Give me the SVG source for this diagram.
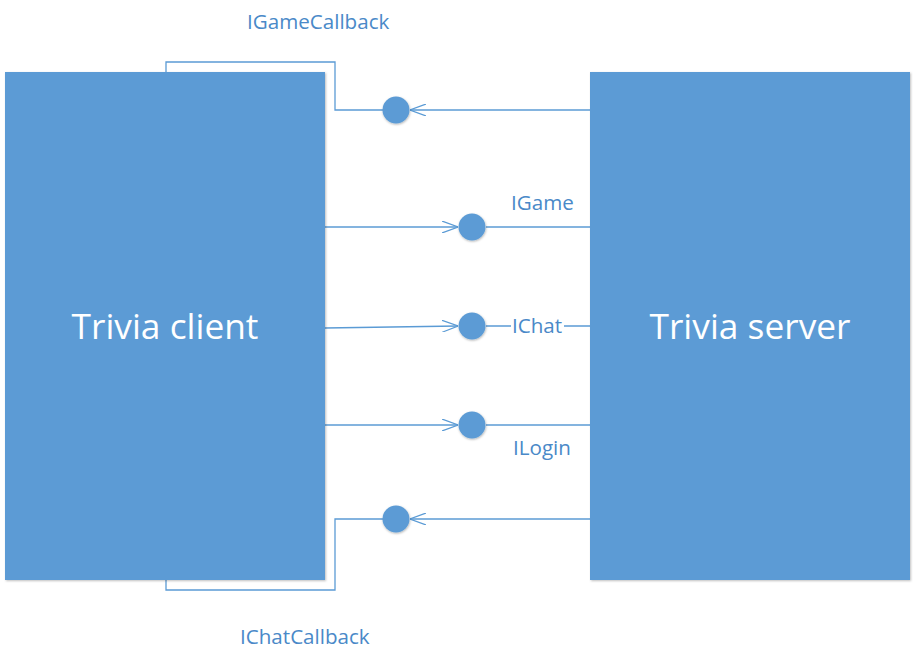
<svg xmlns="http://www.w3.org/2000/svg" width="916" height="664" viewBox="0 0 916 664">
<style>
.box{fill:#5B9BD5;filter:url(#sh)}
.ball{fill:#5B9BD5;filter:url(#sh2)}
.ln{fill:none;stroke:#5B9BD5;stroke-width:1.3}
.big{font-family:"Open Sans","Liberation Sans",sans-serif;font-size:35.3px;fill:#fff;text-anchor:middle}
.lbl{font-family:"Open Sans","Liberation Sans",sans-serif;font-size:20.6px;fill:#4A89C8}
</style>
<defs>
<filter id="sh" x="-5%" y="-5%" width="110%" height="110%">
<feDropShadow dx="1" dy="1" stdDeviation="1" flood-color="#000" flood-opacity="0.25"/>
</filter>
<filter id="sh2" x="-30%" y="-30%" width="160%" height="160%">
<feDropShadow dx="0.5" dy="1" stdDeviation="1" flood-color="#000" flood-opacity="0.3"/>
</filter>
<marker id="open" viewBox="0 0 16 12" refX="16" refY="6" markerWidth="16" markerHeight="12" markerUnits="userSpaceOnUse" orient="auto">
<path d="M0,0 L16,6 L0,12" fill="none" stroke="#5B9BD5" stroke-width="1.2"/>
</marker>
</defs>
<rect width="916" height="664" fill="#fff"/>
<g id="connectors">
<path class="ln" d="M166,72 V62 H335 V110 H383"/>
<path class="ln" d="M590,110 H410" marker-end="url(#open)"/>
<path class="ln" d="M325,227 H458" marker-end="url(#open)"/>
<path class="ln" d="M486,227 H590"/>
<path class="ln" d="M325,328 L458,326" marker-end="url(#open)"/>
<path class="ln" d="M486,326 H511 M564,326 H590"/>
<path class="ln" d="M325,425 H458" marker-end="url(#open)"/>
<path class="ln" d="M486,425 H590"/>
<path class="ln" d="M590,519 H410" marker-end="url(#open)"/>
<path class="ln" d="M383,519 H335 V590 H166 V580"/>
</g>
<g id="client">
<rect class="box" x="5" y="72" width="320" height="508"/>
<text class="big" x="165" y="339">Trivia client</text>
</g>
<g id="server">
<rect class="box" x="590" y="72" width="320" height="508"/>
<text class="big" x="750" y="339">Trivia server</text>
</g>
<g id="IGameCallback">
<circle class="ball" cx="396" cy="110" r="13.5"/>
<text class="lbl" x="247" y="29">IGameCallback</text>
</g>
<g id="IGame">
<circle class="ball" cx="472" cy="227" r="13.5"/>
<text class="lbl" x="511" y="210">IGame</text>
</g>
<g id="IChat">
<circle class="ball" cx="472" cy="326" r="13.5"/>
<text class="lbl" x="512" y="333">IChat</text>
</g>
<g id="ILogin">
<circle class="ball" cx="472" cy="425" r="13.5"/>
<text class="lbl" x="513" y="455">ILogin</text>
</g>
<g id="IChatCallback">
<circle class="ball" cx="396" cy="519" r="13.5"/>
<text class="lbl" x="240" y="644">IChatCallback</text>
</g>
</svg>
